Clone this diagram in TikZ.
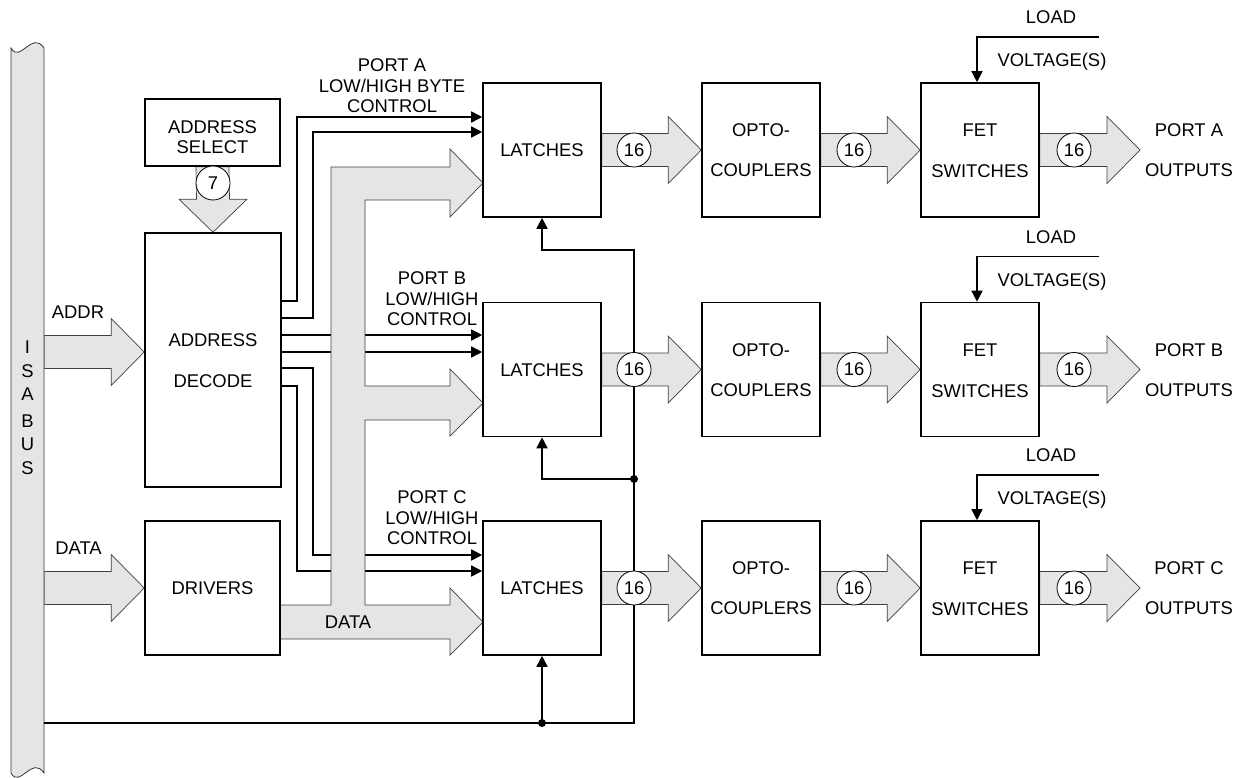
\documentclass[tikz,border=0pt]{standalone}
\usepackage{fontspec}
\setmainfont{Liberation Sans}
\usetikzlibrary{arrows.meta,calc,backgrounds}
\newcommand\fatH[2]{\filldraw[fat] ($(#1)+(0,16.5)$) -- ($(#2)+(-33,16.5)$) -- ($(#2)+(-33,33.5)$) -- (#2) -- ($(#2)+(-33,-33.5)$) -- ($(#2)+(-33,-16.5)$) -- ($(#1)+(0,-16.5)$) -- cycle;}
\begin{document}
\begin{tikzpicture}[x=1pt,y=-1pt,
  every node/.style={font=\fontsize{18.4}{22}\selectfont},
  box/.style={draw,line width=1.6pt,inner sep=0pt},
  blk/.style={box,minimum width=118pt,minimum height=134pt},
  lbl/.style={inner sep=0pt,text height=13.2pt,text depth=0pt},
  ctl/.style={line width=1.6pt},
  tip/.style={-{Triangle[length=11pt,width=11pt]}},
  fat/.style={fill=gray!20,draw=black!75,line width=0.7pt,line join=miter},
  num/.style={circle,draw,fill=white,line width=0.8pt,minimum size=34pt,inner sep=0pt}]
\useasboundingbox (0,0) rectangle (1246,778);
% ISA bus
\filldraw[fill=gray!20,draw=black!80,line width=0.8pt] (11,48) .. controls (20,64) and (32,30) .. (44,48) -- (44,773) .. controls (32,755) and (20,789) .. (11,773) -- cycle;
\foreach \lt/\yy [count=\i] in {I/347,S/371,A/394,B/421,U/444,S/468}
  \node[lbl] (isa\i) at (27.5,\yy) {\lt};
% boxes
\node[box,minimum width=135pt,minimum height=67pt] (asel) at (212.5,132.5) {};
\node[box,minimum width=136pt,minimum height=254pt] (adec) at (213,360) {};
\node[box,minimum width=135pt,minimum height=134pt] (drv) at (212.5,588) {};
\node[lbl] (tasel1) at (212.5,126.5) {ADDRESS};
\node[lbl] (tasel2) at (212.5,146.5) {SELECT};
\node[lbl] (tadec1) at (213,340) {ADDRESS};
\node[lbl] (tadec2) at (213,381) {DECODE};
\node[lbl] (tdrv) at (212.5,588) {DRIVERS};
\node[lbl] (taddr) at (78,312) {ADDR};
\node[lbl] (tdata) at (78.5,548) {DATA};
\foreach \r/\y in {A/150,B/369.5,C/588} {
  \node[blk] (lat\r) at (542,\y) {};
  \node[blk] (opt\r) at (761,\y) {};
  \node[blk] (fet\r) at (980,\y) {};
  \coordinate (out\r) at (1140,\y);
  \coordinate (lv\r) at (1099,\y-113);
  \node[lbl] (tlat\r) at (542,\y) {LATCHES};
  \node[lbl] (topt1\r) at (761,\y-20) {OPTO-};
  \node[lbl] (topt2\r) at (761,\y+20) {COUPLERS};
  \node[lbl] (tfet1\r) at (980,\y-20) {FET};
  \node[lbl] (tfet2\r) at (980,\y+21) {SWITCHES};
  \node[lbl] (tport\r) at (1189,\y-20) {PORT \r};
  \node[lbl] (tout\r) at (1189,\y+20) {OUTPUTS};
  \node[lbl] (tload\r) at (1051,\y-133) {LOAD};
  \node[lbl] (tvolt\r) at (1052,\y-90) {VOLTAGE(S)};
  \draw[ctl,tip] (lv\r) -| ($(fet\r.north)+(-3,0)$);
}
\node[lbl] (pa1) at (392,65) {PORT A};
\node[lbl] (pa2) at (392,86) {LOW/HIGH BYTE};
\node[lbl] (pa3) at (392,106) {CONTROL};
\node[lbl] (pb1) at (432,278) {PORT B};
\node[lbl] (pb2) at (432,299) {LOW/HIGH};
\node[lbl] (pb3) at (432,319) {CONTROL};
\node[lbl] (pc1) at (432,497) {PORT C};
\node[lbl] (pc2) at (432,518) {LOW/HIGH};
\node[lbl] (pc3) at (432,538) {CONTROL};
% coordinates
\coordinate (o1) at (0,301); \coordinate (o2) at (0,318);
\coordinate (o3) at (0,335); \coordinate (o4) at (0,352);
\coordinate (o5) at (0,368); \coordinate (o6) at (0,386);
\coordinate (k1) at (297,117); \coordinate (k2) at (313,132);
\coordinate (k5) at (313,555); \coordinate (k6) at (297,571);
\coordinate (isaA) at (44,352);
\coordinate (isaD) at (44,588);
\coordinate (addrTip) at (adec.west |- isaA);
\begin{scope}[on background layer]
  \draw[ctl,tip] (adec.east |- o1) -| (k1) -- (latA.west |- k1);
  \draw[ctl,tip] (adec.east |- o2) -| (k2) -- (latA.west |- k2);
  \draw[ctl,tip] (adec.east |- o3) -- (latB.west |- o3);
  \draw[ctl,tip] (adec.east |- o4) -- (latB.west |- o4);
  \draw[ctl,tip] (adec.east |- o5) -| (k5) -- (latC.west |- k5);
  \draw[ctl,tip] (adec.east |- o6) -| (k6) -- (latC.west |- k6);
  % data bus
  \filldraw[fat] (280,605) -- (331,605) -- (331,167) -- (450,167) -- (450,149) -- (483,183) -- (450,217) -- (450,200) -- (365,200) -- (365,386) -- (450,386) -- (450,369) -- (483,403) -- (450,436) -- (450,420) -- (365,420) -- (365,605) -- (450,605) -- (450,588) -- (483,622) -- (450,655) -- (450,639) -- (280,639) -- cycle;
  \fatH{isaA}{addrTip}
  \fatH{isaD}{drv.west}
  \filldraw[fat] ($(asel.south)+(-16.5,0)$) -- ($(adec.north)+(-16.5,-33)$) -- ($(adec.north)+(-34,-33)$) -- (adec.north) -- ($(adec.north)+(34,-33)$) -- ($(adec.north)+(16.5,-33)$) -- ($(asel.south)+(16.5,0)$) -- cycle;
  \foreach \r in {A,B,C} {
    \fatH{lat\r.east}{opt\r.west}
    \fatH{opt\r.east}{fet\r.west}
    \fatH{fet\r.east}{out\r}
  }
\end{scope}
\node[lbl] (tbus) at (348,622) {DATA};
% load/strobe lines
\coordinate (clk0) at (44,723);
\coordinate (cA) at (634,250);
\coordinate (jB) at (634,479);
\coordinate (jC) at (542,723);
\draw[ctl,tip] (clk0) -| (cA) -| (latA.south);
\draw[ctl,tip] (jB) -| (latB.south);
\draw[ctl,tip] (jC) -- (latC.south);
\fill (jB) circle[radius=4pt];
\fill (jC) circle[radius=4pt];
% count circles
\node[num] (c7) at (213,183) {7};
\foreach \r/\y in {A/150,B/369.5,C/588} {
  \node[num] (ca\r) at (634,\y) {16};
  \node[num] (cb\r) at (854,\y) {16};
  \node[num] (cc\r) at (1074,\y) {16};
}
\end{tikzpicture}
\end{document}
